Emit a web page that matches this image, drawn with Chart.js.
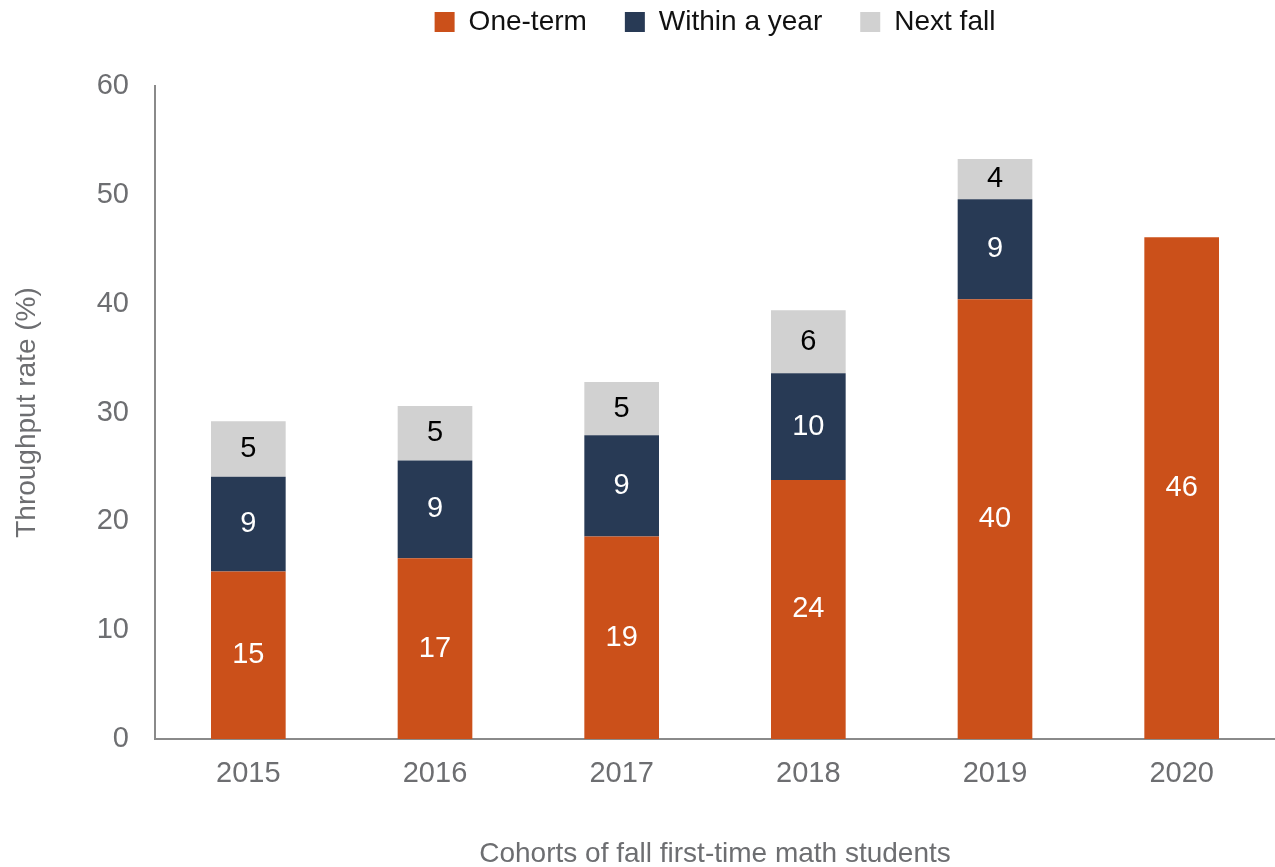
<!DOCTYPE html>
<html>
<head>
<meta charset="utf-8">
<script src="https://cdn.jsdelivr.net/npm/chart.js@4"></script>
<style>
  html, body { margin: 0; padding: 0; background: #fff; }
  #wrap { width: 1275px; height: 867px; }
</style>
</head>
<body>
<div id="wrap"><canvas id="grafico"></canvas></div>
<script>
const cohorts = ['2015', '2016', '2017', '2018', '2019', '2020'];
const oneTerm = [15.4, 16.6, 18.6, 23.8, 40.4, 46.1];
const withinYear = [8.7, 9.0, 9.3, 9.8, 9.2, null];
const nextFall = [5.1, 5.0, 4.9, 5.8, 3.7, null];
const yTicks = [0, 10, 20, 30, 40, 50, 60];

const fontFamily = '"Liberation Sans", Arial, sans-serif';

// etiquetas dentro de cada segmento
const barLabels = {
    id: 'barLabels',
    afterDatasetsDraw(chart) {
        const ctx = chart.ctx;
        ctx.save();
        ctx.font = '29px ' + fontFamily;
        ctx.textAlign = 'center';
        ctx.textBaseline = 'middle';
        chart.data.datasets.forEach((ds, i) => {
            const meta = chart.getDatasetMeta(i);
            meta.data.forEach((bar, j) => {
                const v = ds.data[j];
                if (v == null) return;
                ctx.fillStyle = ds.labelColor;
                ctx.fillText(Math.round(v), bar.x, (bar.y + bar.base) / 2);
            });
        });
        ctx.restore();
    }
};

// espacio extra debajo de la leyenda
const legendSpace = {
    id: 'legendSpace',
    beforeInit(chart) {
        const fitOrig = chart.legend.fit;
        chart.legend.fit = function() {
            fitOrig.call(this);
            this.height += 40;
        };
    }
};

const ctx = document.getElementById('grafico').getContext('2d');
const chart = new Chart(ctx, {
    type: 'bar',
    data: {
        labels: cohorts,
        datasets: [
            { label: 'One-term', data: oneTerm, backgroundColor: '#CB501A', labelColor: '#ffffff' },
            { label: 'Within a year', data: withinYear, backgroundColor: '#283A55', labelColor: '#ffffff' },
            { label: 'Next fall', data: nextFall, backgroundColor: '#D1D1D1', labelColor: '#000000' }
        ]
    },
    options: {
        responsive: true,
        maintainAspectRatio: false,
        animation: false,
        datasets: { bar: { barPercentage: 0.4, categoryPercentage: 1.0 } },
        layout: { padding: { top: -30, right: 0, left: 10, bottom: 0 } },
        scales: {
            x: {
                stacked: true,
                afterFit: (scale) => { scale.height = 128; },
                grid: { display: false, drawTicks: false },
                border: { color: '#8A8A8A', width: 2 },
                ticks: { color: '#6D6E71', font: { family: fontFamily, size: 29 }, padding: 18 },
                title: {
                    display: true,
                    text: 'Cohorts of fall first-time math students',
                    color: '#6D6E71',
                    font: { family: fontFamily, size: 28 },
                    padding: { top: 0, bottom: -4 }
                }
            },
            y: {
                stacked: true,
                min: 0,
                max: 60,
                afterFit: (scale) => { scale.width = 145; },
                afterBuildTicks: (scale) => { scale.ticks = yTicks.map(v => ({ value: v })); },
                grid: { display: false, drawTicks: false },
                border: { color: '#8A8A8A', width: 2 },
                ticks: { color: '#6D6E71', font: { family: fontFamily, size: 29 }, padding: 26 },
                title: {
                    display: true,
                    text: 'Throughput rate (%)',
                    color: '#6D6E71',
                    font: { family: fontFamily, size: 28 },
                    padding: { top: 0, bottom: 0 }
                }
            }
        },
        plugins: {
            legend: {
                display: true,
                position: 'top',
                fullSize: false,
                labels: {
                    color: '#111111',
                    font: { family: fontFamily, size: 28 },
                    boxWidth: 20,
                    boxHeight: 20,
                    padding: 38
                }
            },
            tooltip: { enabled: false }
        }
    },
    plugins: [barLabels, legendSpace]
});
</script>
</body>
</html>
